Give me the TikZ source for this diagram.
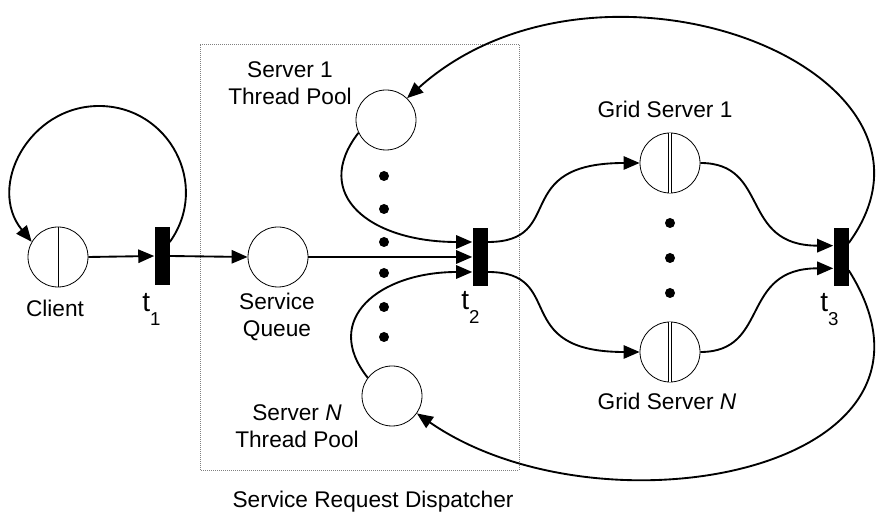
\documentclass[tikz,border=0pt]{standalone}
\usepackage{fontspec}
\setmainfont{Liberation Sans}
\usetikzlibrary{arrows.meta}
\newcommand{\tname}[1]{t\raisebox{-10.5pt}{\fontsize{14}{14}\selectfont #1}}

\begin{document}
\begin{tikzpicture}[x=0.75pt,y=0.75pt,
    place/.style={circle,draw,line width=0.6pt,fill=white,minimum size=45pt,inner sep=0pt},
    trans/.style={rectangle,fill=black,minimum width=11.25pt,minimum height=43.5pt,inner sep=0pt},
    lbl/.style={font=\fontsize{17}{20.25}\selectfont,inner sep=0pt,align=center},
    tlbl/.style={font=\fontsize{21}{24}\selectfont,inner sep=0pt,anchor=base west},
    arc/.style={line width=1.4pt,-{Triangle[length=12pt,width=10pt]}}]
  \useasboundingbox (0,0) rectangle (876,514);
  % dispatcher box
  \draw[densely dotted,gray,line width=0.5pt] (200,44) rectangle (519,470);
  \node[lbl,anchor=base] (boxlbl) at (373,6) {Service Request Dispatcher};
  % client and t1
  \node[place] (client) at (58,257) {};
  \draw[line width=0.5pt] (client.north) -- (client.south);
  \node[lbl,anchor=base] (clientlbl) at (55,197) {Client};
  \node[trans] (t1) at (162,258) {};
  \node[tlbl] (t1lbl) at (142,202) {\tname{1}};
  % service queue and thread pools
  \node[place] (queue) at (278,257) {};
  \node[lbl] (queuelbl) at (277,197) {Service\\Queue};
  \node[place] (pool1) at (386,394) {};
  \node[lbl] (pool1lbl) at (290,431) {Server 1\\Thread Pool};
  \node[place] (poolN) at (392,118) {};
  \node[lbl] (poolNlbl) at (297,88) {Server \textit{N}\\Thread Pool};
  \foreach \y in {338,305,272,241,207,177}
    \fill (384,\y) circle (3.75pt);
  \node[trans] (t2) at (480,257) {};
  \node[tlbl] (t2lbl) at (461,204) {\tname{2}};
  % grid servers and t3
  \node[place] (grid1) at (670,351) {};
  \draw[double,double distance=2.2pt,line width=0.5pt] (grid1.north) -- (grid1.south);
  \node[lbl,anchor=base] (grid1lbl) at (665,396) {Grid Server 1};
  \node[place] (gridN) at (670,162) {};
  \draw[double,double distance=2.2pt,line width=0.5pt] (gridN.north) -- (gridN.south);
  \node[lbl,anchor=base] (gridNlbl) at (667,104) {Grid Server \textit{N}};
  \foreach \y in {291,256,221}
    \fill (670,\y) circle (3.75pt);
  \node[trans] (t3) at (841,257) {};
  \node[tlbl] (t3lbl) at (820,202) {\tname{3}};
  % arcs
  \draw[arc] (client.east) -- (t1.west);
  \draw[arc] ([yshift=10.5pt]t1.east) .. controls +(41,57) and +(70,0) .. (99,408)
    .. controls +(-70,0) and +(-45,55) .. (client.150);
  \draw[arc] (t1.east) -- (queue.west);
  \draw[arc] (queue.east) -- (t2.west);
  \draw[arc] (pool1.205) .. controls +(-48,-62) and +(-102,0) .. ([yshift=11.25pt]t2.west);
  \draw[arc] (poolN.143) .. controls +(-47,59) and +(-92,0) .. ([yshift=-11.25pt]t2.west);
  \draw[arc] ([yshift=11.25pt]t2.east) .. controls +(80,0) and +(-131,0) .. (grid1.west);
  \draw[arc] ([yshift=-11.25pt]t2.east) .. controls +(80,0) and +(-131,0) .. (gridN.west);
  \draw[arc] (grid1.east) .. controls +(70,0) and +(-94,0) .. ([yshift=8.5pt]t3.west);
  \draw[arc] (gridN.east) .. controls +(70,0) and +(-94,0) .. ([yshift=-8.5pt]t3.west);
  \draw[arc] ([yshift=10.5pt]t3.east) .. controls +(126,173) and +(193,173) .. (pool1.46);
  \draw[arc] ([yshift=-10pt]t3.east) .. controls +(126,-200) and +(185,-128) .. (poolN.-35);
\end{tikzpicture}
\end{document}
